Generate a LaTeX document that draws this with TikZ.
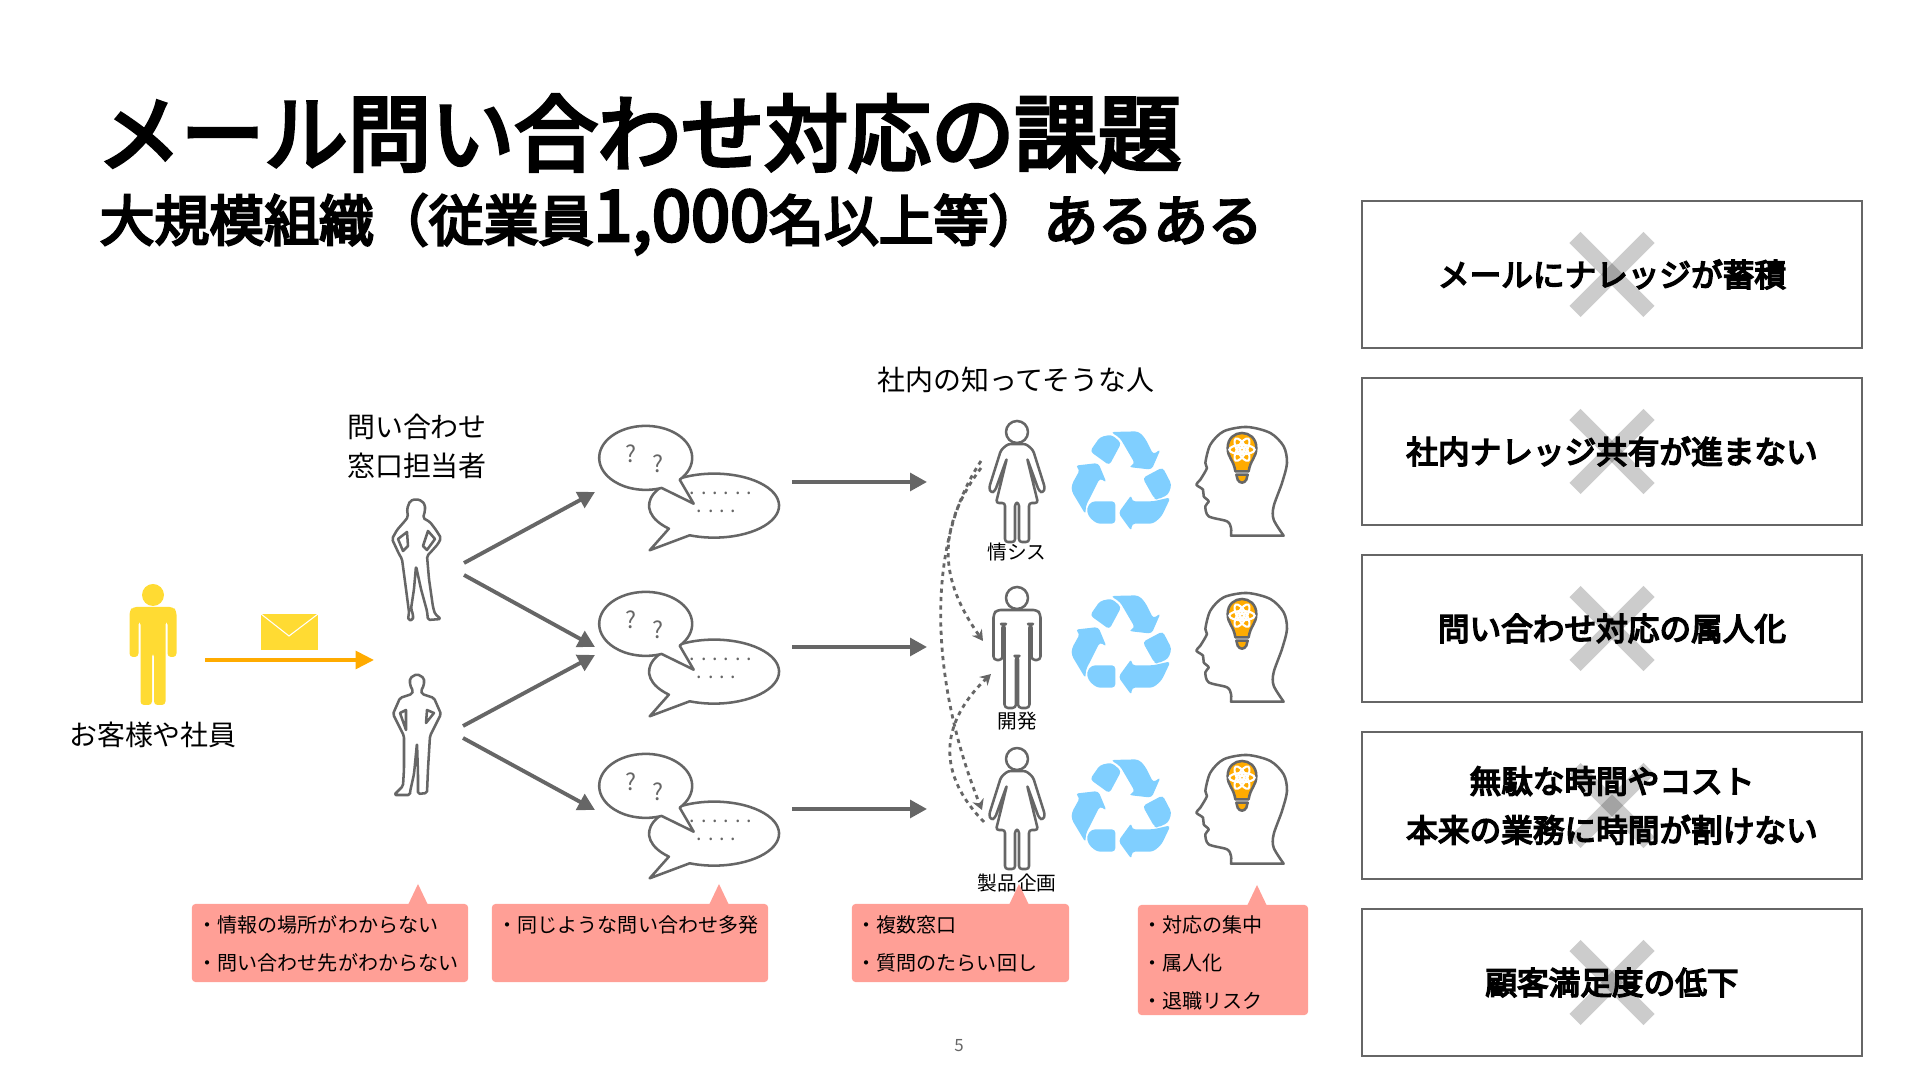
\documentclass[tikz,border=0pt]{standalone}
\usepackage{fontspec}
\usepackage{xcolor}
\usepackage{tikz}
\usetikzlibrary{arrows.meta, positioning}
\setmainfont{Noto Sans CJK JP}
\newfontfamily\heavyfont[FakeBold=4.5]{Noto Sans CJK JP}
\newfontfamily\issuefont[FakeBold=5]{Noto Sans CJK JP}

\definecolor{linegray}{HTML}{666666}
\definecolor{notepink}{HTML}{FF9F96}
\definecolor{mailyellow}{HTML}{FFDB33}
\definecolor{mailorange}{HTML}{FFAB00}
\definecolor{recycleblue}{HTML}{80CFFF}

\begin{document}
\begin{tikzpicture}[
    x=0.01cm, y=-0.01cm,
    title/.style = {anchor=west, inner sep=0pt, font=\fontsize{23.7}{28}\heavyfont},
    subtitle/.style = {anchor=west, inner sep=0pt, font=\fontsize{15.6}{18}\heavyfont},
    label/.style = {inner sep=0pt, align=center, font=\fontsize{7.95}{11.1}\selectfont},
    smalllabel/.style = {inner sep=0pt, font=\fontsize{5.6}{7}\selectfont},
    issue/.style = {rectangle, draw=linegray, line width=0.7pt, minimum width=5cm, minimum height=1.47cm, inner sep=0pt, align=center, font=\fontsize{9}{13.9}\issuefont},
    cross/.style = {line width=4.5pt, black, opacity=0.2},
    note/.style = {rectangle, fill=notepink, rounded corners=1pt, inner sep=0pt},
    notetext/.style = {anchor=north west, inner sep=0pt, align=left, font=\fontsize{5.7}{10.8}\selectfont},
    iconline/.style = {draw=linegray, line width=0.72pt, line join=round},
    arrow/.style = {line width=1.1pt, linegray, -{Triangle[length=4.8pt, width=5pt]}},
    mailarrow/.style = {line width=1.1pt, mailorange, -{Triangle[length=5.2pt, width=5pt]}},
    ask/.style = {line width=0.8pt, linegray, dash pattern=on 1.2pt off 1.2pt, -{Stealth[length=3pt, width=3.4pt]}},
    manicon/.pic = {
        \path[pic actions] (0,0) circle (11);
        \path[pic actions, rounded corners=1pt] (-20,12) -- (20,12) -- (23.5,16) -- (23.5,62) -- (14.5,62) -- (14.5,26) -- (12.5,26) -- (12.5,110) -- (1,110) -- (1,58) -- (-1,58) -- (-1,110) -- (-12.5,110) -- (-12.5,26) -- (-14.5,26) -- (-14.5,62) -- (-23.5,62) -- (-23.5,16) -- cycle;
    },
    womanicon/.pic = {
        \path[pic actions] (0,0) circle (11);
        \path[pic actions, rounded corners=0.8pt] (-9,12) -- (9,12) -- (16,18) -- (28,56) -- (26,61) -- (22,59) -- (10,26) -- (21,71) -- (12,71) -- (12,110) -- (2,110) -- (2,71) -- (-2,71) -- (-2,110) -- (-12,110) -- (-12,71) -- (-21,71) -- (-10,26) -- (-22,59) -- (-26,61) -- (-28,56) -- (-16,18) -- cycle;
    },
    staffwoman/.pic = {
        \draw[iconline, rounded corners=0.5pt] (0,0) -- (6,2) -- (9,6) -- (9,12) -- (7,19) -- (14,23) -- (20,31) -- (25,39) -- (22,45) -- (14,54) -- (11,57) -- (13,80) -- (17,108) -- (19,115) -- (25,120) -- (12,121) -- (11,112) -- (5,90) -- (0,67) -- (-2,90) -- (-5,110) -- (-3,115) -- (-3,121) -- (-8,121) -- (-7,113) -- (-10,90) -- (-14,60) -- (-17,55) -- (-24,40) -- (-19,31) -- (-12,23) -- (-8,18) -- (-9,10) -- (-6,2) -- cycle;
        \draw[iconline] (-18,40) -- (-13,52) -- (-8,47) -- (-9,33) -- cycle;
        \draw[iconline] (7,47) -- (11,51) -- (19,40) -- (12,32) -- cycle;
    },
    staffman/.pic = {
        \draw[iconline, rounded corners=0.5pt] (0,0) -- (7,4) -- (7,11) -- (4,17) -- (5,20) -- (17,24) -- (24,40) -- (13,62) -- (11,95) -- (10,119) -- (1,120) -- (1,100) -- (0,69) -- (-3,100) -- (-7,118) -- (-7,121) -- (-23,121) -- (-14,112) -- (-13,95) -- (-13,62) -- (-24,40) -- (-17,24) -- (-5,20) -- (-4,17) -- (-7,11) -- (-7,4) -- cycle;
        \draw[iconline] (-17,39) -- (-11,56) -- (-11,36) -- cycle;
        \draw[iconline] (10,36) -- (9,49) -- (17,39) -- cycle;
    },
    bubbles/.pic = {
        \draw[iconline, fill=white] (43.7,77.3) arc[start angle=112, end angle=-226, x radius=65, y radius=32] -- (3.7,92.3) -- cycle;
        \draw[iconline, fill=white] (33.7,21.7) arc[start angle=43, end angle=-290, x radius=46.5, y radius=32] -- (47.7,45.7) -- cycle;
        \node[linegray, inner sep=0pt, font=\fontsize{6.6}{8}\selectfont] (-qa) at (-14.7,-4.3) {?};
        \node[linegray, inner sep=0pt, font=\fontsize{6.6}{8}\selectfont] (-qb) at (12,6.3) {?};
        \node[linegray, inner sep=0pt, align=left, font=\fontsize{5.6}{5.1}\selectfont] (-dots) at (75,44) {. . . . . .\\\hspace*{2pt}. . . .};
    },
    recycle/.pic = {
        \begin{scope}[scale=1/3, shift={(-600,-250)}, rounded corners=1pt]
            \fill[recycleblue] (510,155) -- (540,112) -- (575,105) -- (604,130) -- (568,197) -- cycle;
            \fill[recycleblue] (572,97) -- (655,95) -- (675,115) -- (700,165) -- (722,148) -- (695,210) -- (625,202) -- (645,192) -- (600,115) -- cycle;
            \fill[recycleblue] (668,235) -- (728,203) -- (755,255) -- (745,285) -- (712,300) -- (703,297) -- cycle;
            \fill[recycleblue] (752,293) -- (725,350) -- (700,372) -- (635,372) -- (635,395) -- (595,340) -- (635,285) -- (635,305) -- (700,305) -- cycle;
            \fill[recycleblue] (586,305) -- (586,372) -- (530,372) -- (505,350) -- (500,325) -- (515,305) -- cycle;
            \fill[recycleblue] (497,345) -- (455,275) -- (455,255) -- (480,210) -- (465,198) -- (535,190) -- (560,250) -- (540,235) -- (497,320) -- cycle;
        \end{scope}
    },
    headicon/.pic = {
        \begin{scope}[scale=1/3, shift={(-965,-250)}]
            \draw[iconline] plot[smooth, tension=0.5] coordinates {(1090,408) (1060,360) (1060,320) (1085,250) (1100,190) (1090,140) (1050,100) (980,82) (910,95) (870,135) (855,190) (860,205) (840,240) (828,255) (848,270) (850,290) (865,305) (855,320) (865,350) (920,365) (932,385) (932,408)} -- cycle;
            \draw[iconline, fill=mailorange] (945,215) .. controls (940,180) and (922,175) .. (922,145) .. controls (922,85) and (1008,85) .. (1008,145) .. controls (1008,175) and (990,180) .. (985,215) -- cycle;
            \draw[iconline, fill=mailorange] (948,225) -- (982,225) -- (978,240) .. controls (972,252) and (958,252) .. (952,240) -- cycle;
            \foreach \ang in {0,60,120} {
                \draw[white, line width=0.6pt, rotate around={\ang:(965,150)}] (965,150) ellipse (38 and 14);
            }
            \draw[white, line width=0.8pt] (965,150) circle (7);
        \end{scope}
    }
]
    \useasboundingbox (0,0) rectangle (1920,1080);

    % Title
    \node (maintitle) [title] at (97,133) {メール問い合わせ対応の課題};
    \node (subtitle) [subtitle] at (99,222) {大規模組織（従業員{\fontsize{20}{18}\heavyfont 1,000}名以上等）あるある};

    % Issues
    \node (issueA) [issue] at (1612,274.5) {メールにナレッジが蓄積};
    \node (issueB) [issue] at (1612,451.5) {社内ナレッジ共有が進まない};
    \node (issueC) [issue] at (1612,628.5) {問い合わせ対応の属人化};
    \node (issueD) [issue] at (1612,805.5) {無駄な時間やコスト\\本来の業務に時間が割けない};
    \node (issueE) [issue] at (1612,982.5) {顧客満足度の低下};
    \foreach \n in {issueA,issueB,issueC,issueD,issueE} {
        \draw[cross] ([shift={(-37,-37)}]\n.center) -- ([shift={(37,37)}]\n.center);
        \draw[cross] ([shift={(-37,37)}]\n.center) -- ([shift={(37,-37)}]\n.center);
    }

    % People
    \pic[fill=mailyellow] at (153,595) {manicon};
    \node (customer) [label] at (153,735) {お客様や社員};
    \fill[mailyellow] (261,614) rectangle (318,650);
    \draw[white, line width=0.3pt] (261,614) -- (289,636) -- (318,614);
    \pic at (416,499) {staffwoman};
    \pic at (417,674) {staffman};
    \node (staff) [label] at (417,446) {問い合わせ\\窓口担当者};
    \node (insiders) [label] at (1016,380) {社内の知ってそうな人};
    \pic[iconline] at (1017,432) {womanicon};
    \pic[iconline] at (1017,598) {manicon};
    \pic[iconline] at (1017,759) {womanicon};
    \node (joushisu) [smalllabel] at (1017,552) {情シス};
    \node (kaihatsu) [smalllabel] at (1017,721) {開発};
    \node (seihin) [smalllabel] at (1017,883) {製品企画};

    % Bubbles, recycling, heads
    \pic (bubbleA) at (646,458) {bubbles};
    \pic (bubbleB) at (646,624) {bubbles};
    \pic (bubbleC) at (646,786) {bubbles};
    \pic at (1120,483) {recycle};
    \pic at (1120,647) {recycle};
    \pic at (1120,811) {recycle};
    \pic at (1242,483) {headicon};
    \pic at (1242,649) {headicon};
    \pic at (1242,811) {headicon};

    % Arrow ends
    \coordinate (mailstart) at (205,660);
    \coordinate (mailend) at (374,660);
    \coordinate (staffAout) at (464,563);
    \coordinate (staffAdown) at (464,575);
    \coordinate (staffBout) at (463,726);
    \coordinate (staffBdown) at (463,738);
    \coordinate (bubbleAin) at (595,492);
    \coordinate (bubbleBin) at (595,647);
    \coordinate (bubbleBlow) at (595,655);
    \coordinate (bubbleCin) at (595,810);
    \coordinate (bubbleAout) at (792,482);
    \coordinate (bubbleBout) at (792,647);
    \coordinate (bubbleCout) at (792,809);
    \coordinate (peopleA) at (927,482);
    \coordinate (peopleB) at (927,647);
    \coordinate (peopleC) at (927,809);
    \coordinate (askAout) at (981,468);
    \coordinate (askAtop) at (981,461);
    \coordinate (askBin) at (983,641);
    \coordinate (askBlow) at (991,674);
    \coordinate (askCin) at (982,810);
    \coordinate (askCout) at (984,822);

    % Arrows
    \draw [mailarrow] (mailstart) -- (mailend);
    \draw [arrow] (staffAout) -- (bubbleAin);
    \draw [arrow] (staffAdown) -- (bubbleBin);
    \draw [arrow] (staffBout) -- (bubbleBlow);
    \draw [arrow] (staffBdown) -- (bubbleCin);
    \draw [arrow] (bubbleAout) -- (peopleA);
    \draw [arrow] (bubbleBout) -- (peopleB);
    \draw [arrow] (bubbleCout) -- (peopleC);
    \draw [ask] (askAout) .. controls (935,530) and (940,580) .. (askBin);
    \draw [ask] (askAtop) .. controls (925,545) and (930,680) .. (askCin);
    \draw [ask] (askCout) .. controls (938,775) and (938,725) .. (askBlow);

    % Notes
    \node (noteA) [note, minimum width=2.76cm, minimum height=0.78cm] at (330,943) {};
    \fill[notepink] (408,905) -- (418,884) -- (428,905) -- cycle;
    \node (noteAtext) [notetext] at (197,915) {・情報の場所がわからない\\・問い合わせ先がわからない};
    \node (noteB) [note, minimum width=2.76cm, minimum height=0.78cm] at (630,943) {};
    \fill[notepink] (709,905) -- (719,884) -- (729,905) -- cycle;
    \node (noteBtext) [notetext] at (497,915) {・同じような問い合わせ多発};
    \node (noteC) [note, minimum width=2.17cm, minimum height=0.78cm] at (960.5,943) {};
    \fill[notepink] (1009,905) -- (1019,884) -- (1029,905) -- cycle;
    \node (noteCtext) [notetext] at (856,915) {・複数窓口\\・質問のたらい回し};
    \node (noteD) [note, minimum width=1.70cm, minimum height=1.10cm] at (1223,960) {};
    \fill[notepink] (1247,906) -- (1257,885) -- (1267,906) -- cycle;
    \node (noteDtext) [notetext] at (1142,915) {・対応の集中\\・属人化\\・退職リスク};

    % Page number
    \node (pagenumber) [linegray, inner sep=0pt, font=\fontsize{4.8}{6}\selectfont] at (959,1046) {5};
\end{tikzpicture}
\end{document}
